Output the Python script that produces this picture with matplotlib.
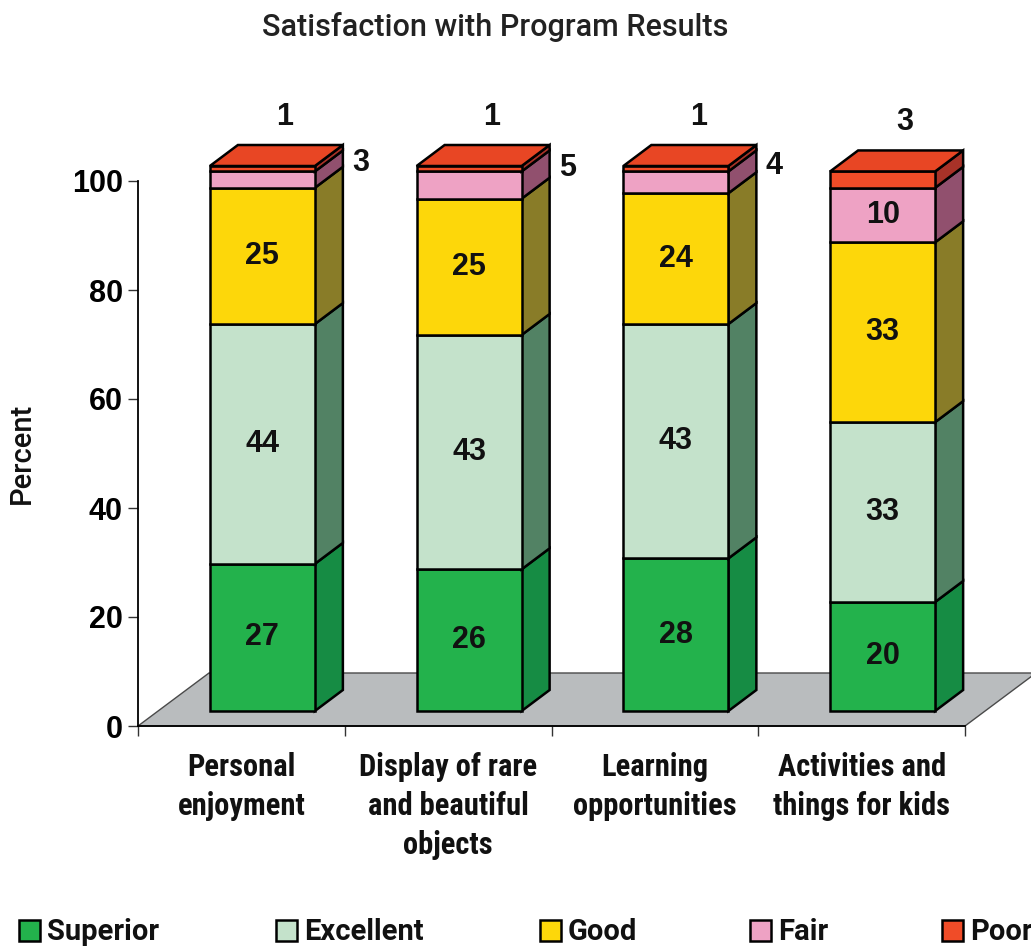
import matplotlib
matplotlib.use("Agg")
import matplotlib.pyplot as plt
from matplotlib.patches import Polygon, Rectangle
from matplotlib import font_manager

# ---- data -------------------------------------------------------------
categories = ["Personal\nenjoyment",
              "Display of rare\nand beautiful\nobjects",
              "Learning\nopportunities",
              "Activities and\nthings for kids"]
series_names = ["Superior", "Excellent", "Good", "Fair", "Poor"]
superior = [27, 26, 28, 20]
excellent = [44, 43, 43, 33]
good = [25, 25, 24, 33]
fair = [3, 5, 4, 10]
poor = [1, 1, 1, 3]
y_ticks = [0, 20, 40, 60, 80, 100]

series = [superior, excellent, good, fair, poor]

# ---- styling ----------------------------------------------------------
front_colors = ["#23B24C", "#C4E2CB", "#FDD70A", "#EEA2C4", "#F04C28"]
side_colors = ["#168C44", "#528264", "#897C28", "#91506E", "#A83228"]
top_colors = ["#1FA047", "#B5D6BD", "#F0CB08", "#E497BA", "#E84624"]
floor_color = "#B9BCBE"

installed = {f.name for f in font_manager.fontManager.ttflist}
sans = "Liberation Sans"
narrow, narrow_size = sans, 19.5
for cand in ("Liberation Sans Narrow", "Arial Narrow", "Roboto Condensed"):
    if cand in installed:
        narrow, narrow_size = cand, 22
        break
title_font = "Roboto" if "Roboto" in installed else sans

W, H = 1031, 948
fig = plt.figure(figsize=(W / 100, H / 100), dpi=100)

# pixel scale of the plotting area
px_cat = 206.75      # pixels per category
px_unit = 5.45       # pixels per percent
x0_px, y0_px = 138, 726  # origin (from top-left)
ax_top_px, ax_bot_px = 100, 745

ax = fig.add_axes([x0_px / W, (H - ax_bot_px) / H, (W - x0_px) / W,
                   (ax_bot_px - ax_top_px) / H])
ax.set_xlim(0, (W - x0_px) / px_cat)
ax.set_ylim(-(ax_bot_px - y0_px) / px_unit, (y0_px - ax_top_px) / px_unit)
ax.patch.set_visible(False)

# 3-D offsets (data units)
front_dx, front_dy = 21 / px_cat, 15 / px_unit
depth_dx, depth_dy = 28 / px_cat, 21 / px_unit
bar_w = 105 / px_cat
floor_dx, floor_dy = 71 / px_cat, 53 / px_unit
n = len(categories)

# floor
ax.add_patch(Polygon([(0, 0), (n, 0), (n + floor_dx, floor_dy), (floor_dx, floor_dy)],
                     closed=True, facecolor=floor_color, edgecolor="#4a4a4a",
                     linewidth=1.0, zorder=1))

edge_kw = dict(edgecolor="black", linewidth=1.8, joinstyle="miter", zorder=3)
label_kw = dict(fontsize=22, fontweight="bold", family=sans, color="#111111",
                ha="center", va="center", zorder=5)

for i in range(n):
    xl = i + 0.5 + front_dx - bar_w / 2
    xr = xl + bar_w
    base = 0.0
    total = sum(s[i] for s in series)
    for k, s in enumerate(series):
        v = s[i]
        y_lo = front_dy + base
        y_hi = front_dy + base + v
        # side face
        ax.add_patch(Polygon([(xr, y_lo), (xr + depth_dx, y_lo + depth_dy),
                              (xr + depth_dx, y_hi + depth_dy), (xr, y_hi)],
                             closed=True, facecolor=side_colors[k], **edge_kw))
        # front face
        ax.add_patch(Polygon([(xl, y_lo), (xr, y_lo), (xr, y_hi), (xl, y_hi)],
                             closed=True, facecolor=front_colors[k], **edge_kw))
        if k == len(series) - 1:
            ax.add_patch(Polygon([(xl, y_hi), (xr, y_hi),
                                  (xr + depth_dx, y_hi + depth_dy),
                                  (xl + depth_dx, y_hi + depth_dy)],
                                 closed=True, facecolor=top_colors[k], **edge_kw))
        # value label
        mid = (y_lo + y_hi) / 2
        if v >= 10:
            ax.text((xl + xr) / 2, mid, f"{v}", **label_kw)
        elif k == len(series) - 1:
            ax.text((xl + xr) / 2 + depth_dx * 0.8,
                    front_dy + total + depth_dy + 5.2, f"{v}", **label_kw)
        else:
            ax.text(xr + depth_dx + 18 / px_cat, mid + depth_dy * 0.8, f"{v}",
                    **label_kw)
        base += v

# axes
for side in ("top", "right"):
    ax.spines[side].set_visible(False)
ax.spines["left"].set_bounds(0, 100)
ax.spines["left"].set_linewidth(1.3)
ax.spines["bottom"].set_position(("data", 0))
ax.spines["bottom"].set_bounds(0, n)
ax.spines["bottom"].set_linewidth(1.3)
ax.spines["bottom"].set_zorder(2)
ax.set_yticks(y_ticks)
ax.set_yticklabels([str(t) for t in y_ticks])
ax.tick_params(axis="y", direction="out", length=7, width=1.0, pad=4,
               labelsize=22, color="#333333")
for lab in ax.get_yticklabels():
    lab.set_fontweight("bold")
    lab.set_family(sans)
ax.set_xticks(range(n + 1))
ax.set_xticklabels([])
ax.tick_params(axis="x", direction="out", length=7, width=1.0, color="#333333")

# category labels (first line top at ~752 px, ~38.5 px line pitch)
line_h = 0.858 * narrow_size * 100 / 72
for i, c in enumerate(categories):
    ax.text(i + 0.5, -(752 - y0_px) / px_unit, c, ha="center", va="top",
            fontsize=narrow_size, fontweight="bold", family=narrow,
            linespacing=36.3 / line_h, color="#111111")

fig.text(22 / W, 1 - 453 / H, "Percent", rotation=90, ha="center", va="center",
         fontsize=21, family=title_font, fontweight="medium", color="#111111")
fig.text(495 / W, 1 - 27 / H, "Satisfaction with Program Results", ha="center",
         va="center", fontsize=22, family=title_font, fontweight="medium",
         color="#222222")

# legend
legend_x = [19, 276, 540, 750, 942]
for k, name in enumerate(series_names):
    fig.patches.append(Rectangle((legend_x[k] / W, 1 - 941 / H), 21 / W, 21 / H,
                                 transform=fig.transFigure, facecolor=front_colors[k],
                                 edgecolor="black", linewidth=1.8))
    fig.text((legend_x[k] + 28) / W, 1 - 932 / H, name, ha="left", va="center",
             fontsize=21, fontweight="bold", family=title_font, color="#111111")

fig.savefig("out.png", dpi=100)
